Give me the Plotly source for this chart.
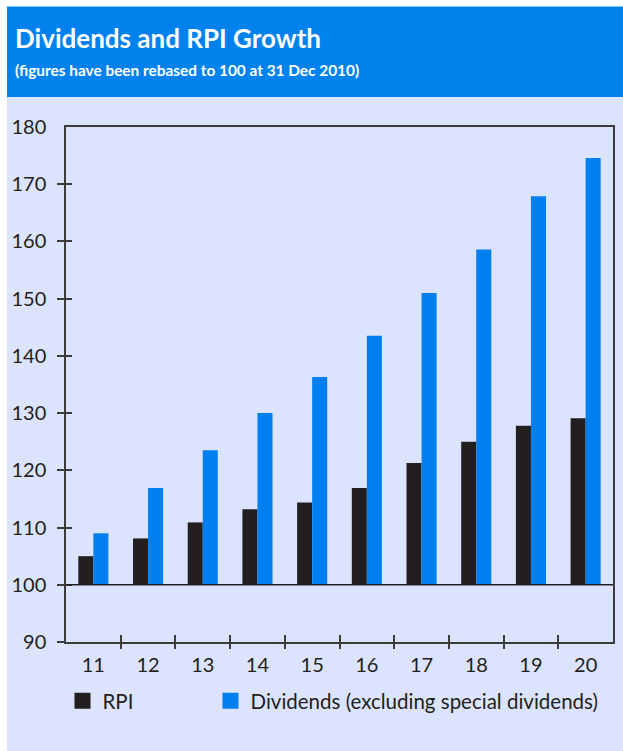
import plotly.graph_objects as go

# ---- data ----
years = ["11", "12", "13", "14", "15", "16", "17", "18", "19", "20"]
rpi = [105.0, 108.1, 110.9, 113.2, 114.4, 116.9, 121.3, 125.0, 127.8, 129.1]
dividends = [109.0, 116.9, 123.5, 130.0, 136.3, 143.5, 151.0, 158.6, 167.9, 174.6]
base_value = 100
y_ticks = [90, 100, 110, 120, 130, 140, 150, 160, 170, 180]

title = "Dividends and RPI Growth"
subtitle = "(figures have been rebased to 100 at 31 Dec 2010)"
name_rpi = "RPI"
name_div = "Dividends (excluding special dividends)"

# ---- style ----
W, H = 623, 751
ML, MT = 66, 127
MR = W - 613
MB = H - 642
PW, PH = W - ML - MR, H - MT - MB
FONT = "Lato, 'Open Sans', sans-serif"
C_RPI = "#231f20"
C_DIV = "#0080f0"
C_HEAD = "#0082ee"
C_BG = "#dce3fc"
C_AX = "#3c3c3c"
TXT = "#231f20"


def px_x(p):   # page px -> paper
    return (p - ML) / PW


def px_y(p):
    return (H - MB - p) / PH


idx = list(range(len(years)))
xr = [-0.5, len(years) - 0.5]
yr = [y_ticks[0], y_ticks[-1]]
bounds = [i + 0.5 for i in range(len(years) - 1)]

fig = go.Figure()
fig.add_trace(go.Bar(x=idx, y=[v - base_value for v in rpi], base=base_value,
                     marker=dict(color=C_RPI, line=dict(width=0)), name=name_rpi,
                     showlegend=False))
fig.add_trace(go.Bar(x=idx, y=[v - base_value for v in dividends], base=base_value,
                     marker=dict(color=C_DIV, line=dict(width=0)), name=name_div,
                     showlegend=False))
# legend entries
fig.add_trace(go.Scatter(x=[None], y=[None], mode="markers", name=name_rpi,
                         marker=dict(symbol="square", size=16, color=C_RPI),
                         legend="legend"))
fig.add_trace(go.Scatter(x=[None], y=[None], mode="markers", name=name_div,
                         marker=dict(symbol="square", size=16, color=C_DIV),
                         legend="legend2"))
# helper traces for crossing ticks
fig.add_trace(go.Scatter(x=[None], y=[None], xaxis="x2", yaxis="y2",
                         showlegend=False, hoverinfo="skip"))
fig.add_trace(go.Scatter(x=[None], y=[None], xaxis="x3", yaxis="y3",
                         showlegend=False, hoverinfo="skip"))

common_off = dict(showgrid=False, zeroline=False, automargin=False)
leg_common = dict(orientation="h", xanchor="left", yanchor="middle",
                  bgcolor="rgba(0,0,0,0)", font=dict(size=20.5, color=TXT),
                  itemsizing="trace")

fig.update_layout(
    width=W, height=H,
    margin=dict(l=ML, r=MR, t=MT, b=MB, pad=0, autoexpand=False),
    paper_bgcolor="white",
    plot_bgcolor="rgba(0,0,0,0)",
    font=dict(family=FONT, size=20, color=TXT),
    barmode="group", bargap=0.45, bargroupgap=0,
    xaxis=dict(range=xr, tickvals=idx, ticktext=years, ticks="outside",
               ticklen=4, tickcolor="rgba(0,0,0,0)", showline=True,
               linecolor=C_AX, linewidth=1.5, mirror=True, **common_off),
    yaxis=dict(range=yr, tickvals=y_ticks, ticks="outside", ticklen=14,
               tickcolor="rgba(0,0,0,0)", showline=True, linecolor=C_AX,
               linewidth=1.5, mirror=True, **common_off),
    xaxis2=dict(range=xr, overlaying="x", anchor="y2", side="bottom",
                tickvals=bounds, ticks="outside", ticklen=6, tickwidth=1.5,
                tickcolor=C_AX, showticklabels=False, showline=False, **common_off),
    yaxis2=dict(range=yr, overlaying="y", anchor="x2", side="left",
                tickvals=y_ticks[:-1], ticks="outside", ticklen=8, tickwidth=1.5,
                tickcolor=C_AX, showticklabels=False, showline=False, **common_off),
    xaxis3=dict(range=xr, overlaying="x", anchor="y3", side="bottom",
                tickvals=bounds, ticks="inside", ticklen=7, tickwidth=1.5,
                tickcolor=C_AX, showticklabels=False, showline=False, **common_off),
    yaxis3=dict(range=yr, overlaying="y", anchor="x3", side="left",
                tickvals=y_ticks[1:-1], ticks="inside", ticklen=6, tickwidth=1.5,
                tickcolor=C_AX, showticklabels=False, showline=False, **common_off),
    legend=dict(x=px_x(62.5), y=px_y(701), **leg_common),
    legend2=dict(x=px_x(210.5), y=px_y(701), **leg_common),
    showlegend=True,
    shapes=[
        dict(type="rect", xref="paper", yref="paper", x0=px_x(7), x1=px_x(W + 5),
             y0=px_y(H + 5), y1=px_y(97), fillcolor=C_BG, line=dict(width=0),
             layer="below"),
        dict(type="rect", xref="paper", yref="paper", x0=px_x(7), x1=px_x(W + 5),
             y0=px_y(97), y1=px_y(6.5), fillcolor=C_HEAD, line=dict(width=0),
             layer="below"),
        dict(type="line", xref="paper", yref="y", x0=0, x1=1, y0=base_value,
             y1=base_value, line=dict(color=C_RPI, width=1.5), layer="above"),
    ],
    annotations=[
        dict(text="<b>" + title + "</b>", xref="paper", yref="paper", x=px_x(12.5),
             y=px_y(38), xanchor="left", yanchor="middle", showarrow=False,
             font=dict(size=26, color="white", family=FONT)),
        dict(text="<b>" + subtitle + "</b>", xref="paper", yref="paper", x=px_x(13),
             y=px_y(70), xanchor="left", yanchor="middle", showarrow=False,
             font=dict(size=15.4, color="white", family=FONT)),
    ],
)

fig.write_html(
    "out.html",
    config={"displayModeBar": False},
    post_script="document.body.style.margin='0';document.body.style.overflow='hidden';",
)
